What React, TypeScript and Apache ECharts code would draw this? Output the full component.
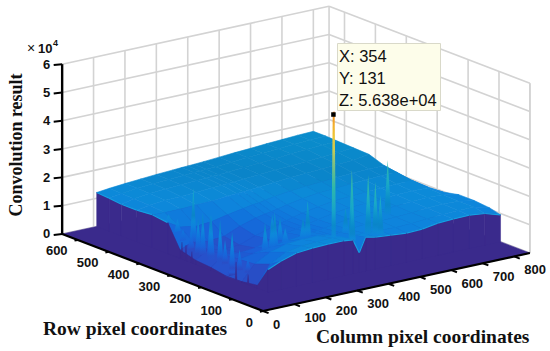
import React, { useEffect, useRef } from "react";
import * as echarts from "echarts";

const colTicks = [0, 100, 200, 300, 400, 500, 600, 700, 800];
const rowTicks = [0, 100, 200, 300, 400, 500, 600];
const zTicks = [0, 1, 2, 3, 4, 5, 6];
const colMax = 850;
const rowMax = 650;

const colNodes = [110, 150, 200, 250, 300, 350, 380, 400, 420, 450, 500, 550, 600, 650, 700, 750, 800, 850];
const rowNodes = [95, 130, 180, 230, 280, 330, 380, 420, 470, 520, 570, 610, 650];
const N = NaN;
// surface height, in units of 1e4, one list per row node
const h95 = [0.8, 1.0, 1.17, 1.22, 1.24, 1.24, 1.2, 0.7, 1.2, 1.13, 1.08, 1.03, 1.05, 1.14, 1.17, 1.18, 1.12, 0.95];
const h130 = [0.1, 0.75, 1.05, 1.15, 1.18, 1.2, 1.15, 0.85, 1.12, 1.12, 1.1, 1.08, 1.1, 1.15, 1.18, 1.2, 1.2, 1.05];
const h180 = [0.02, 0.55, 0.85, 1.0, 1.05, 1.05, 1.02, 0.95, 1.02, 1.05, 1.1, 1.1, 1.12, 1.15, 1.2, 1.22, 1.2, 1.1];
const h230 = [0.0, 0.5, 0.6, 0.7, 0.8, 0.85, 0.9, 0.92, 0.95, 1.0, 1.08, 1.12, 1.15, 1.18, 1.22, 1.24, 1.22, 1.1];
const h280 = [0.1, 0.45, 0.4, 0.45, 0.62, 0.75, 0.8, 0.85, 0.9, 0.98, 1.08, 1.15, 1.18, 1.2, 1.25, 1.26, 1.25, 0.98];
const h330 = [0.15, 0.42, 0.33, 0.35, 0.55, 0.72, 0.8, 0.85, 0.92, 1.0, 1.1, 1.18, 1.22, 1.25, 1.28, 1.3, 1.3, 0.95];
const h380 = [0.3, 0.5, 0.4, 0.45, 0.68, 0.85, 0.92, 0.96, 1.0, 1.08, 1.18, 1.25, 1.28, 1.32, 1.35, 1.38, 1.38, 0.85];
const h420 = [1.1, 0.85, 0.75, 0.8, 0.92, 1.02, 1.08, 1.1, 1.14, 1.2, 1.28, 1.32, 1.36, 1.4, 1.43, 1.45, 1.45, 0.8];
const h470 = [1.17, 1.15, 1.15, 1.18, 1.2, 1.25, 1.27, 1.28, 1.3, 1.33, 1.38, 1.42, 1.45, 1.48, 1.52, 1.55, 1.64, N];
const h520 = [1.12, 1.2, 1.25, 1.27, 1.3, 1.33, 1.35, 1.36, 1.37, 1.4, 1.44, 1.48, 1.5, 1.54, 1.58, 1.62, 1.66, N];
const h570 = [1.12, 1.22, 1.28, 1.32, 1.35, 1.38, 1.4, 1.41, 1.42, 1.44, 1.48, 1.52, 1.55, 1.6, 1.63, 1.67, 1.68, N];
const h610 = [1.17, 1.24, 1.3, 1.34, 1.37, 1.4, 1.42, 1.43, 1.44, 1.46, 1.5, 1.54, 1.57, 1.61, 1.65, 1.68, 1.7, N];
const h650 = [1.2, 1.25, 1.3, 1.34, 1.38, 1.41, 1.43, 1.44, 1.45, 1.47, 1.51, 1.55, 1.58, 1.62, 1.65, 1.68, 1.7, N];
const heights = [h95, h130, h180, h230, h280, h330, h380, h420, h470, h520, h570, h610, h650];

const spikeCols = [354, 409, 452, 467, 593, 383, 477, 472, 345, 330, 289, 257, 246, 227, 150, 131, 132, 130, 129, 130, 115, 125, 128, 130, 128, 130, 130, 128, 130, 300, 315, 430];
const spikeRows = [131, 128, 119, 111, 199, 100, 105, 100, 206, 206, 222, 223, 221, 224, 378, 304, 329, 271, 390, 365, 217, 433, 407, 342, 297, 255, 232, 206, 181, 250, 290, 170];
const spikeTops = [5.638, 3.46, 3.22, 2.97, 3.07, 2.5, 2.5, 1.87, 2.2, 1.63, 1.31, 1.94, 1.7, 1.63, 2.4, 1.8, 1.77, 1.77, 0.95, 1.0, 1.5, 1.3, 1.25, 1.54, 1.83, 1.13, 1.5, 1.0, 0.8, 1.55, 1.45, 1.9];
const notchRows = [374, 361, 342, 199, 160];
const notchTops = [0.6, 0.55, 0.4, 0.64, 0.35];

const tipLines = ["X: 354", "Y: 131", "Z: 5.638e+04"];

const colorStops: [number, string][] = [
  [0, "#3a2a8c"], [0.05, "#332e9c"], [0.12, "#1c62e0"], [0.33, "#2a4cc4"], [0.55, "#1a60d8"], [0.9, "#0f76dc"],
  [1.1, "#0e84dc"], [1.25, "#0c8ad8"], [1.45, "#0a84c8"], [1.7, "#0a8ccc"], [2.2, "#18a8c8"], [3, "#30b8a8"], [3.8, "#80c080"],
  [4.5, "#e8d040"], [5.0, "#f5c030"], [5.64, "#f08020"],
];
const hex = (s: string) => [1, 3, 5].map((i) => parseInt(s.slice(i, i + 2), 16));
function colorOf(z: number) {
  for (let i = 1; i < colorStops.length; i++) {
    if (z <= colorStops[i][0]) {
      const [z0, c0] = colorStops[i - 1];
      const [z1, c1] = colorStops[i];
      const t = Math.max(0, (z - z0) / (z1 - z0));
      const a = hex(c0), b = hex(c1);
      return `rgb(${a.map((v, k) => Math.round(v + (b[k] - v) * t)).join(",")})`;
    }
  }
  return colorStops[colorStops.length - 1][1];
}

const project = (c: number, r: number, z: number): [number, number] => [
  263 + 0.314 * c - 0.309 * r,
  311 - 0.0682 * c - 0.1185 * r - 28.3 * z,
];

function surfaceAt(c: number, r: number) {
  let i = 0, j = 0;
  while (i < colNodes.length - 2 && colNodes[i + 1] < c) i++;
  while (j < rowNodes.length - 2 && rowNodes[j + 1] < r) j++;
  const tc = Math.min(1, Math.max(0, (c - colNodes[i]) / (colNodes[i + 1] - colNodes[i])));
  const tr = Math.min(1, Math.max(0, (r - rowNodes[j]) / (rowNodes[j + 1] - rowNodes[j])));
  const a = heights[j][i] * (1 - tc) + heights[j][i + 1] * tc;
  const b = heights[j + 1][i] * (1 - tc) + heights[j + 1][i + 1] * tc;
  return a * (1 - tr) + b * tr;
}

type P3 = [number, number, number];
type Mark =
  | { kind: "poly"; pts: P3[]; fill: string; stroke?: string; lw?: number }
  | { kind: "spike"; c: number; r: number; top: number; base: number; w: number; tw: number }
  | { kind: "line"; a: P3; b: P3; color: string; lw: number }
  | { kind: "text"; at: P3; dx: number; dy: number; text: string; align: string };

const marks: Mark[] = [];
const WALL = "#d3d3d3";
const PURPLE = "#3a2a8c";

// back walls
zTicks.forEach((z) => {
  marks.push({ kind: "line", a: [0, rowMax, z], b: [colMax, rowMax, z], color: WALL, lw: 1.6 });
  marks.push({ kind: "line", a: [colMax, rowMax, z], b: [colMax, 0, z], color: WALL, lw: 1.6 });
});
colTicks.forEach((c) => marks.push({ kind: "line", a: [c, rowMax, 0], b: [c, rowMax, 6], color: WALL, lw: 1.6 }));
rowTicks.forEach((r) => marks.push({ kind: "line", a: [colMax, r, 0], b: [colMax, r, 6], color: WALL, lw: 1.6 }));
marks.push({ kind: "line", a: [colMax, rowMax, 0], b: [colMax, rowMax, 6], color: WALL, lw: 1.6 });
marks.push({ kind: "line", a: [colMax, 0, 0], b: [colMax, 0, 6], color: WALL, lw: 1.6 });

// floor
marks.push({ kind: "poly", pts: [[0, 0, 0], [colMax, 0, 0], [colMax, rowMax, 0], [0, rowMax, 0]], fill: PURPLE, stroke: PURPLE, lw: 0.5 });

// surface, back to front
for (let j = rowNodes.length - 2; j >= 0; j--) {
  for (let i = colNodes.length - 2; i >= 0; i--) {
    const q = [heights[j][i], heights[j][i + 1], heights[j + 1][i + 1], heights[j + 1][i]];
    if (q.some((v) => Number.isNaN(v))) continue;
    const avg = (q[0] + q[1] + q[2] + q[3]) / 4;
    const col = colorOf(avg);
    marks.push({
      kind: "poly",
      pts: [
        [colNodes[i], rowNodes[j], q[0]],
        [colNodes[i + 1], rowNodes[j], q[1]],
        [colNodes[i + 1], rowNodes[j + 1], q[2]],
        [colNodes[i], rowNodes[j + 1], q[3]],
      ],
      fill: col,
      stroke: col,
      lw: 0.6,
    });
    spikeCols.forEach((c, k) => {
      const r = spikeRows[k];
      if (c >= colNodes[i] && c < colNodes[i + 1] && r >= rowNodes[j] && r < rowNodes[j + 1]) {
        marks.push({ kind: "spike", c, r, top: spikeTops[k], base: surfaceAt(c, r), w: k === 0 ? 7 : 11, tw: k === 0 ? 3 : 0 });
      }
    });
  }
}

// side walls and their bright top edge
for (let j = rowNodes.length - 2; j >= 0; j--) {
  const c = colNodes[0];
  marks.push({
    kind: "poly",
    pts: [[c, rowNodes[j], 0], [c, rowNodes[j], heights[j][0]], [c, rowNodes[j + 1], heights[j + 1][0]], [c, rowNodes[j + 1], 0]],
    fill: PURPLE, stroke: PURPLE, lw: 0.5,
  });
  if (rowNodes[j] >= 420) {
    marks.push({ kind: "line", a: [c, rowNodes[j], heights[j][0]], b: [c, rowNodes[j + 1], heights[j + 1][0]], color: "#12a0e4", lw: 1.2 });
  }
}
notchRows.forEach((r, k) => {
  const c = colNodes[0];
  marks.push({ kind: "poly", pts: [[c, r - 3, 0], [c, r, notchTops[k]], [c, r + 3, 0]], fill: PURPLE, stroke: PURPLE, lw: 0.3 });
});
for (let i = colNodes.length - 2; i >= 0; i--) {
  const r = rowNodes[0];
  marks.push({
    kind: "poly",
    pts: [[colNodes[i], r, 0], [colNodes[i], r, heights[0][i]], [colNodes[i + 1], r, heights[0][i + 1]], [colNodes[i + 1], r, 0]],
    fill: PURPLE, stroke: PURPLE, lw: 0.5,
  });
  marks.push({ kind: "line", a: [colNodes[i], r, heights[0][i]], b: [colNodes[i + 1], r, heights[0][i + 1]], color: "#12a0e4", lw: 1.2 });
}

// axes
marks.push({ kind: "line", a: [0, rowMax, 0], b: [0, rowMax, 6], color: "#000", lw: 2.4 });
marks.push({ kind: "line", a: [0, rowMax, 0], b: [0, 0, 0], color: "#000", lw: 2.2 });
marks.push({ kind: "line", a: [0, 0, 0], b: [colMax, 0, 0], color: "#000", lw: 2.2 });
zTicks.forEach((z) => {
  marks.push({ kind: "line", a: [0, rowMax, z], b: [-22, rowMax + 5, z], color: "#000", lw: 2 });
  marks.push({ kind: "text", at: [0, rowMax, z], dx: -12, dy: 0, text: String(z), align: "right" });
});
rowTicks.forEach((r) => {
  marks.push({ kind: "line", a: [0, r, 0], b: [-10, r, 0], color: "#000", lw: 2 });
  marks.push({ kind: "text", at: [0, r, 0], dx: -10, dy: 11, text: String(r), align: "right" });
});
colTicks.forEach((c) => {
  marks.push({ kind: "line", a: [c, 0, 0], b: [c, -18, 0], color: "#000", lw: 2 });
  marks.push({ kind: "text", at: [c, 0, 0], dx: 10, dy: 13, text: String(c), align: "left" });
});

function renderMark(params: any, api: any) {
  const m = marks[params.dataIndex];
  const pt = (p: P3) => api.coord(project(p[0], p[1], p[2]));
  if (m.kind === "poly") {
    return { type: "polygon", shape: { points: m.pts.map(pt) }, style: { fill: m.fill, stroke: m.stroke, lineWidth: m.lw } };
  }
  if (m.kind === "spike") {
    const stops: { offset: number; color: string }[] = [];
    for (let k = 0; k <= 10; k++) {
      stops.push({ offset: k / 10, color: colorOf(m.top - ((m.top - m.base) * k) / 10) });
    }
    return {
      type: "polygon",
      shape: {
        points: [
          pt([m.c - m.w, m.r, m.base]),
          pt([m.c - m.tw, m.r, m.top]),
          pt([m.c + m.tw, m.r, m.top]),
          pt([m.c + m.w, m.r, m.base]),
        ],
      },
      style: { fill: new echarts.graphic.LinearGradient(0, 0, 0, 1, stops) },
    };
  }
  if (m.kind === "line") {
    const a = pt(m.a), b = pt(m.b);
    return { type: "line", shape: { x1: a[0], y1: a[1], x2: b[0], y2: b[1] }, style: { stroke: m.color, lineWidth: m.lw } };
  }
  const p = pt(m.at);
  return {
    type: "text",
    x: p[0] + m.dx,
    y: p[1] + m.dy,
    style: { text: m.text, fill: "#111", font: "bold 13px 'Liberation Sans'", textAlign: m.align, textVerticalAlign: "middle" },
  };
}

const peak = project(spikeCols[0], spikeRows[0], spikeTops[0]);
const serif = "'Liberation Serif'";
const sans = "'Liberation Sans'";

export default function App() {
  const ref = useRef<HTMLDivElement>(null);
  useEffect(() => {
    document.body.style.margin = "0";
    const chart = echarts.init(ref.current!, null, { renderer: "svg" });
    chart.setOption({
      animation: false,
      backgroundColor: "#fff",
      grid: { left: 0, right: 0, top: 0, bottom: 0 },
      xAxis: { type: "value", min: 0, max: 550, show: false },
      yAxis: { type: "value", min: 0, max: 351, inverse: true, show: false },
      series: [
        {
          type: "custom",
          coordinateSystem: "cartesian2d",
          clip: false,
          silent: true,
          renderItem: renderMark,
          data: marks.map((_, i) => [i]),
          encode: { x: 0 },
          z: 1,
        },
      ],
      graphic: [
        { type: "rect", z: 10, shape: { x: peak[0] - 2.5, y: peak[1] + 0.5, width: 4.5, height: 4.5 }, style: { fill: "#000" } },
        { type: "rect", z: 10, shape: { x: 337.5, y: 43.5, width: 103, height: 67 }, style: { fill: "#fdfdea", stroke: "#d9d9c9", lineWidth: 1 } },
        ...tipLines.map((t, i) => ({
          type: "text", z: 11, x: 339, y: 56 + i * 22,
          style: { text: t, fill: "#111", font: `16.5px ${sans}`, textVerticalAlign: "middle" },
        })),
        { type: "text", z: 11, x: 27, y: 48, style: { text: "×", fill: "#111", font: `14px ${sans}`, textVerticalAlign: "middle" } },
        { type: "text", z: 11, x: 38, y: 48, style: { text: "10", fill: "#111", font: `bold 13px ${sans}`, textVerticalAlign: "middle" } },
        { type: "text", z: 11, x: 53, y: 43, style: { text: "4", fill: "#111", font: `bold 9px ${sans}`, textVerticalAlign: "middle" } },
        { type: "text", z: 11, x: 16, y: 145, rotation: Math.PI / 2, style: { text: "Convolution result", fill: "#111", font: `bold 18px ${serif}`, textAlign: "center", textVerticalAlign: "middle" } },
        { type: "text", z: 11, x: 43, y: 328, style: { text: "Row pixel coordinates", fill: "#111", font: `bold 19.5px ${serif}`, textVerticalAlign: "middle" } },
        { type: "text", z: 11, x: 316, y: 336, style: { text: "Column pixel coordinates", fill: "#111", font: `bold 19.5px ${serif}`, textVerticalAlign: "middle" } },
      ],
    });
    return () => chart.dispose();
  }, []);
  return <div ref={ref} style={{ width: 550, height: 351 }} />;
}
